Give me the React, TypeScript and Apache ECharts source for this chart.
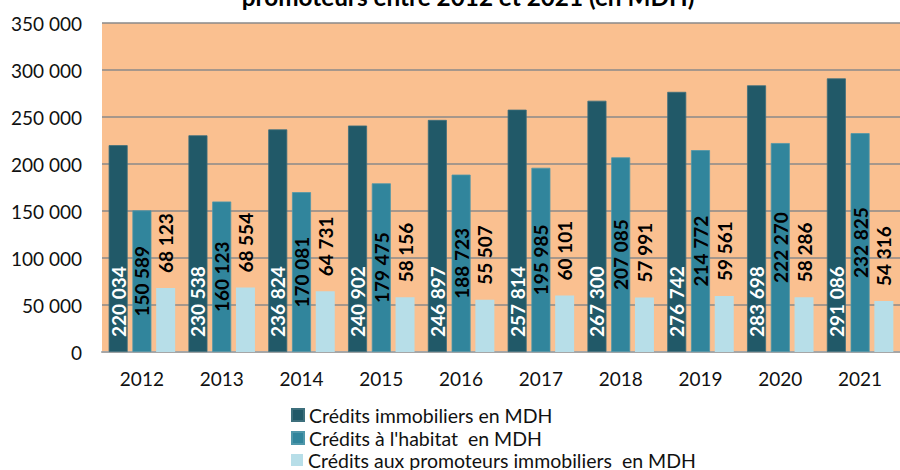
import React, { useEffect, useRef } from "react";
import * as echarts from "echarts";

const years = ["2012", "2013", "2014", "2015", "2016", "2017", "2018", "2019", "2020", "2021"];
const creditsImmobiliers = [220034, 230538, 236824, 240902, 246897, 257814, 267300, 276742, 283698, 291086];
const creditsHabitat = [150589, 160123, 170081, 179475, 188723, 195985, 207085, 214772, 222270, 232825];
const creditsPromoteurs = [68123, 68554, 64731, 58156, 55507, 60101, 57991, 59561, 58286, 54316];
const seriesNames = [
  "Crédits immobiliers en MDH",
  "Crédits à l'habitat  en MDH",
  "Crédits aux promoteurs immobiliers  en MDH",
];
const titleText = "promoteurs entre 2012 et 2021 (en MDH)";

const FONT = "Lato";
const fmt = (v: number) => String(Math.round(v)).replace(/\B(?=(\d{3})+(?!\d))/g, " ");

export default function App() {
  const ref = useRef<HTMLDivElement>(null);
  useEffect(() => {
    if (!ref.current) return;
    const chart = echarts.init(ref.current, undefined, { renderer: "svg" });
    const labelBase = {
      show: true,
      rotate: 90,
      fontFamily: FONT,
      fontWeight: "bold" as const,
      fontSize: 19,
      formatter: (p: any) => fmt(p.value),
    };
    const legendTops = [405, 428, 450];
    chart.setOption({
      animation: false,
      backgroundColor: "#ffffff",
      textStyle: { fontFamily: FONT },
      grid: { left: 102, top: 23, bottom: 118, width: 808, backgroundColor: "#FAC090", show: true, borderWidth: 0 },
      graphic: [
        {
          type: "text",
          x: 468,
          y: 8,
          style: {
            text: titleText,
            font: `bold 24.3px ${FONT}`,
            fill: "#000000",
            align: "center",
            verticalAlign: "bottom",
          },
        },
      ],
      legend: seriesNames.map((n, i) => ({
        orient: "vertical",
        left: 291,
        top: legendTops[i],
        padding: 0,
        itemWidth: 12,
        itemHeight: 12,
        icon: "rect",
        textStyle: { fontFamily: FONT, fontSize: 19.5, color: "#111111" },
        data: [n],
      })),
      xAxis: {
        type: "category",
        data: years,
        axisTick: { show: false },
        axisLine: { lineStyle: { color: "#a6a6a6", width: 2 } },
        axisLabel: { fontFamily: FONT, fontSize: 19, color: "#111111", margin: 17 },
      },
      yAxis: {
        type: "value",
        min: 0,
        max: 350000,
        interval: 50000,
        axisLine: { show: false },
        axisTick: { show: false },
        splitLine: { lineStyle: { color: "#8a8a8a", width: 1.5 } },
        axisLabel: { fontFamily: FONT, fontSize: 19, color: "#111111", margin: 20, formatter: (v: number) => fmt(v) },
      },
      series: [
        {
          name: seriesNames[0],
          type: "bar",
          data: creditsImmobiliers,
          barWidth: 19,
          barGap: "25%",
          itemStyle: { color: "#215968", borderColor: "#3d6f7c", borderWidth: 0.8 },
          label: { ...labelBase, position: "insideBottom", distance: 15, align: "left", verticalAlign: "middle", color: "#ffffff" },
        },
        {
          name: seriesNames[1],
          type: "bar",
          data: creditsHabitat,
          barWidth: 19,
          barGap: "25%",
          itemStyle: { color: "#31859C", borderColor: "#4f97aa", borderWidth: 0.8 },
          label: { ...labelBase, position: "inside", align: "center", verticalAlign: "middle", color: "#000000" },
        },
        {
          name: seriesNames[2],
          type: "bar",
          data: creditsPromoteurs,
          barWidth: 19,
          barGap: "25%",
          itemStyle: { color: "#B7DEE8" },
          label: { ...labelBase, position: "top", distance: 15, align: "left", verticalAlign: "middle", color: "#000000" },
        },
      ],
    });
    return () => chart.dispose();
  }, []);
  return (
    <div
      ref={ref}
      style={{ position: "fixed", left: 0, top: 0, width: 900, height: 470 }}
    />
  );
}
